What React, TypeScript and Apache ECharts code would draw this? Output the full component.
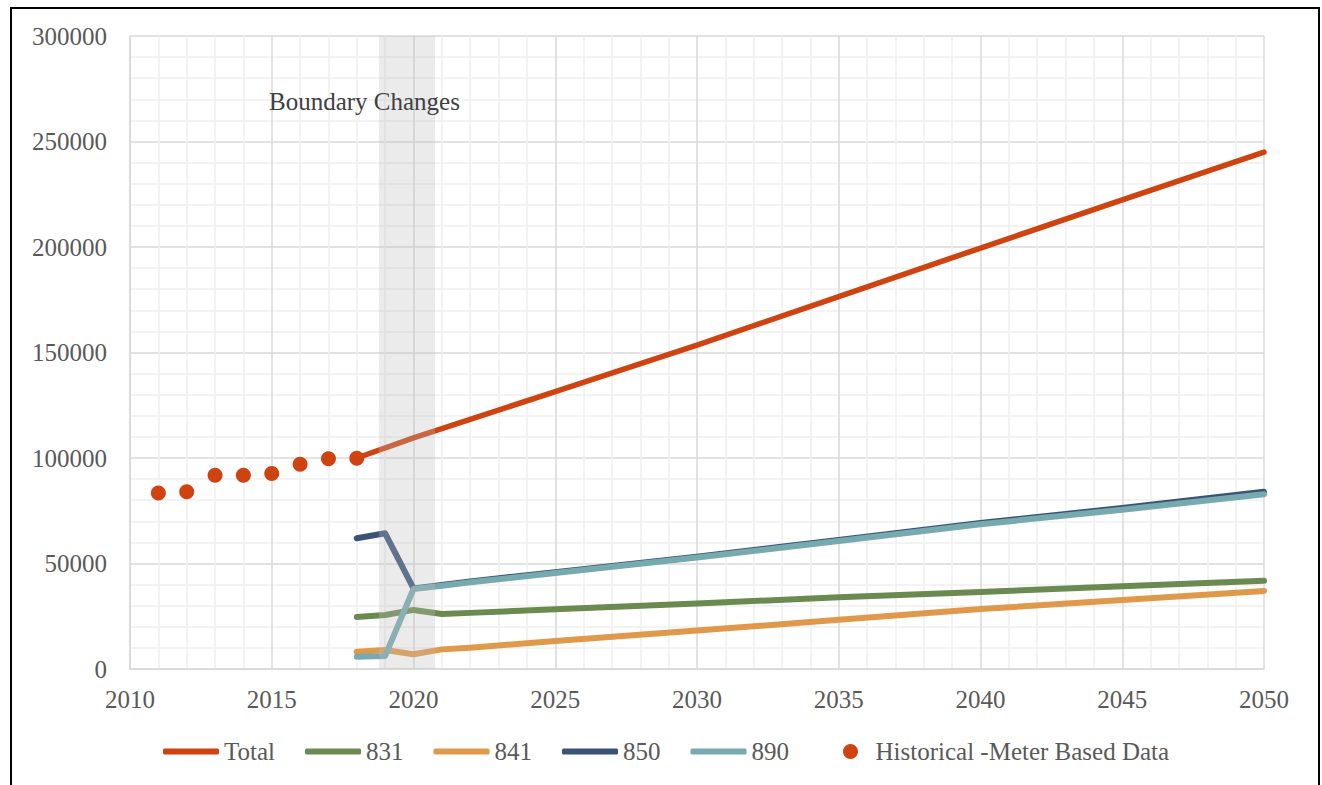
import React, { useEffect, useRef } from "react";
import * as echarts from "echarts";

const histYears = [2011, 2012, 2013, 2014, 2015, 2016, 2017, 2018];
const histValues = [83400, 84000, 91800, 91800, 92700, 97000, 99700, 99900];

const totalYears = [2018, 2020, 2025, 2030, 2035, 2040, 2045, 2050];
const totalValues = [100000, 109500, 131500, 153500, 176500, 199500, 222300, 245000];

const subYears = [2018, 2019, 2020, 2021, 2022, 2025, 2030, 2035, 2040, 2045, 2050];
const values831 = [24600, 25600, 28000, 26100, 26600, 28300, 31000, 34000, 36500, 39200, 41800];
const values841 = [8200, 9000, 7000, 9300, 10100, 13300, 18200, 23300, 28400, 32700, 37000];
const values850 = [62000, 64300, 38200, 39800, 41500, 45900, 53200, 61200, 69200, 76300, 84000];
const values890 = [5800, 6200, 37900, 39500, 41100, 45500, 52800, 60700, 68600, 75500, 82800];

const bandRanges = [
  [2018.78, 2019.77, -3300, 300000],
  [2019.77, 2020.76, -1400, 301300],
];

const FONT = "Liberation Serif";
const TEXT = "#595959";

const pair = (xs: number[], ys: number[]) => xs.map((x, i) => [x, ys[i]]);

export default function App() {
  const ref = useRef<HTMLDivElement>(null);
  useEffect(() => {
    document.body.style.margin = "0";
    if (!ref.current) return;
    const chart = echarts.init(ref.current, null, { renderer: "svg" });
    const lineSeries = (name: string, xs: number[], ys: number[], color: string, width: number) => ({
      name,
      type: "line",
      data: pair(xs, ys),
      showSymbol: false,
      symbol: "none",
      lineStyle: { color, width, cap: "round", join: "round" },
      itemStyle: { color },
      z: 3,
    });
    chart.setOption({
      animation: false,
      backgroundColor: "#ffffff",
      textStyle: { fontFamily: FONT },
      grid: { left: 130, right: 58, top: 36, bottom: 116 },
      xAxis: {
        type: "value",
        min: 2010,
        max: 2050,
        interval: 5,
        axisLine: { show: true, lineStyle: { color: "#d9d9d9", width: 1.5 } },
        axisTick: { show: false },
        axisLabel: {
          color: TEXT,
          fontSize: 25,
          fontFamily: FONT,
          margin: 18,
          formatter: (v: number) => String(v),
        },
        splitLine: { show: true, lineStyle: { color: "#d9d9d9", width: 1.5 } },
        minorTick: { show: false, splitNumber: 5 },
        minorSplitLine: { show: true, lineStyle: { color: "#efefef", width: 1.5 } },
      },
      yAxis: {
        type: "value",
        min: 0,
        max: 300000,
        interval: 50000,
        axisLine: { show: true, lineStyle: { color: "#d9d9d9", width: 1.5 } },
        axisTick: { show: false },
        axisLabel: {
          color: TEXT,
          fontSize: 25,
          fontFamily: FONT,
          margin: 23,
          formatter: (v: number) => String(v),
        },
        splitLine: { show: true, lineStyle: { color: "#d9d9d9", width: 1.5 } },
        minorTick: { show: false, splitNumber: 5 },
        minorSplitLine: { show: true, lineStyle: { color: "#efefef", width: 1.5 } },
      },
      legend: [
        {
          left: 158,
          top: 734,
          itemWidth: 56,
          itemHeight: 6,
          itemGap: 30,
          icon: "roundRect",
          textStyle: { color: TEXT, fontSize: 25, fontFamily: FONT },
          data: ["Total", "831", "841", "850", "890"],
        },
        {
          left: 838,
          top: 734,
          itemWidth: 40,
          itemHeight: 15,
          icon: "circle",
          textStyle: { color: TEXT, fontSize: 25, fontFamily: FONT },
          data: ["Historical -Meter Based Data"],
        },
      ],
      graphic: [
        {
          type: "rect",
          shape: { x: 11, y: 8, width: 1308, height: 800 },
          style: { fill: "none", stroke: "#000000", lineWidth: 2 },
          silent: true,
          z: 100,
        },
        {
          type: "text",
          left: 269,
          top: 89,
          style: { text: "Boundary Changes", fill: "#404040", font: `25px '${FONT}'` },
          z: 100,
        },
      ],
      series: [
        lineSeries("Total", totalYears, totalValues, "#cf4310", 5.5),
        lineSeries("831", subYears, values831, "#6a8a50", 6),
        lineSeries("841", subYears, values841, "#e0994a", 6),
        lineSeries("850", subYears, values850, "#3a5277", 6),
        lineSeries("890", subYears, values890, "#76aaae", 6),
        {
          name: "Historical -Meter Based Data",
          type: "scatter",
          data: pair(histYears, histValues),
          symbol: "circle",
          symbolSize: 15,
          itemStyle: { color: "#cf4310", opacity: 1 },
          z: 4,
        },
        {
          name: "band",
          type: "line",
          data: [],
          clip: false,
          markArea: {
            z: 10,
            silent: true,
            itemStyle: { color: "rgba(190,190,190,0.3)", borderWidth: 0 },
            data: bandRanges.map((r) => [
              { coord: [r[0], r[2]] },
              { coord: [r[1], r[3]] },
            ]),
          },
        },
      ],
    });
    return () => chart.dispose();
  }, []);
  return <div ref={ref} style={{ width: 1322, height: 785 }} />;
}
